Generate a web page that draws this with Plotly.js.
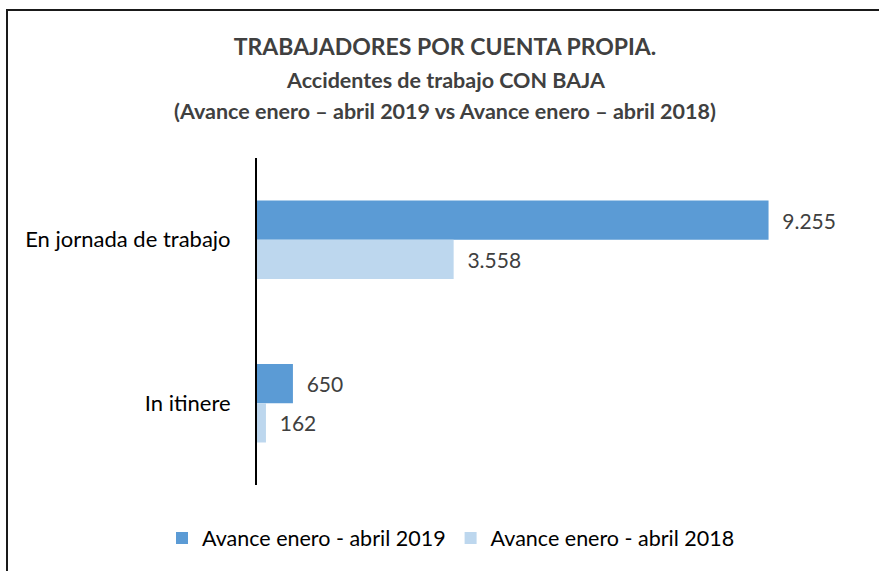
<!DOCTYPE html>
<html>
<head>
<meta charset="utf-8">
<script src="https://cdn.plot.ly/plotly-3.0.1.min.js"></script>
<style>
html,body{margin:0;padding:0;background:#fff;overflow:hidden;}
#wrap{position:relative;width:879px;height:571px;overflow:hidden;}
#chart{position:absolute;left:0;top:0;width:879px;height:571px;}
#frame{position:absolute;left:6px;top:9px;width:900px;height:600px;border:2px solid #1a1a1a;pointer-events:none;}
</style>
</head>
<body>
<div id="wrap"><div id="chart"></div><div id="frame"></div></div>
<script>
var categories = ["En jornada de trabajo", "In itinere"];
var seriesNames = ["Avance enero - abril 2019", "Avance enero - abril 2018"];
var values2019 = [9255, 650];
var values2018 = [3558, 162];
var titleLines = ["TRABAJADORES POR CUENTA PROPIA.", "Accidentes de trabajo CON BAJA", "(Avance enero \u2013 abril 2019 vs Avance enero \u2013 abril 2018)"];

var FONT = "Lato, 'Open Sans', sans-serif";
var pad = "\u00a0\u00a0";

var traces = [
  {type:"bar", orientation:"h", name:seriesNames[0], y:categories, x:values2019,
   marker:{color:"#5B9BD5"}, texttemplate:pad+"%{x:,.0f}", textposition:"outside",
   cliponaxis:false, textfont:{family:FONT, size:21, color:"#404040"}, hoverinfo:"none"},
  {type:"bar", orientation:"h", name:seriesNames[1], y:categories, x:values2018,
   marker:{color:"#BDD7EE"}, texttemplate:pad+"%{x:,.0f}", textposition:"outside",
   cliponaxis:false, textfont:{family:FONT, size:21, color:"#404040"}, hoverinfo:"none"}
];

var L = 257, R = 14, T = 158, B = 86;
var W = 879, H = 571;
var pw = W - L - R, ph = H - T - B;
function px2paperX(x){ return (x - L) / pw; }
function px2paperY(y){ return (H - B - y) / ph; }

var layout = {
  width: W, height: H,
  margin: {l:L, r:R, t:T, b:B, pad:0},
  paper_bgcolor: "#fff", plot_bgcolor: "#fff",
  separators: ",.",
  font: {family: FONT, color: "#000"},
  title: {text: "<b>" + titleLines[0] + "</b>", font:{family:FONT, size:23, color:"#404040"},
          xref:"container", x: 445/879, xanchor:"center", yref:"container", y: 1 - 47/571, yanchor:"middle"},
  annotations: [
    {text:"<b>" + titleLines[1] + "</b>", xref:"paper", yref:"paper", x:px2paperX(446), y:px2paperY(80),
     xanchor:"center", yanchor:"middle", showarrow:false, font:{family:FONT, size:21.5, color:"#404040"}},
    {text:"<b>" + titleLines[2] + "</b>", xref:"paper", yref:"paper", x:px2paperX(445), y:px2paperY(111),
     xanchor:"center", yanchor:"middle", showarrow:false, font:{family:FONT, size:21.5, color:"#404040"}}
  ],
  barmode: "group", bargap: 0.52, bargroupgap: 0,
  xaxis: {range:[0, 11000], visible:false, showgrid:false, zeroline:false, fixedrange:true},
  yaxis: {type:"category", autorange:"reversed", showline:true, linecolor:"#000", linewidth:2,
          ticks:"", showgrid:false, zeroline:false, ticklabelstandoff:20,
          tickfont:{family:FONT, size:22, color:"#000"}, fixedrange:true},
  showlegend: true,
  legend: {orientation:"h", xref:"container", yref:"container", x:451/879, xanchor:"center",
           y: 1 - 538/571, yanchor:"middle", font:{family:FONT, size:21.5, color:"#000"},
           itemwidth:30, traceorder:"normal"}
};

Plotly.newPlot("chart", traces, layout, {staticPlot:true, displayModeBar:false});
</script>
</body>
</html>
